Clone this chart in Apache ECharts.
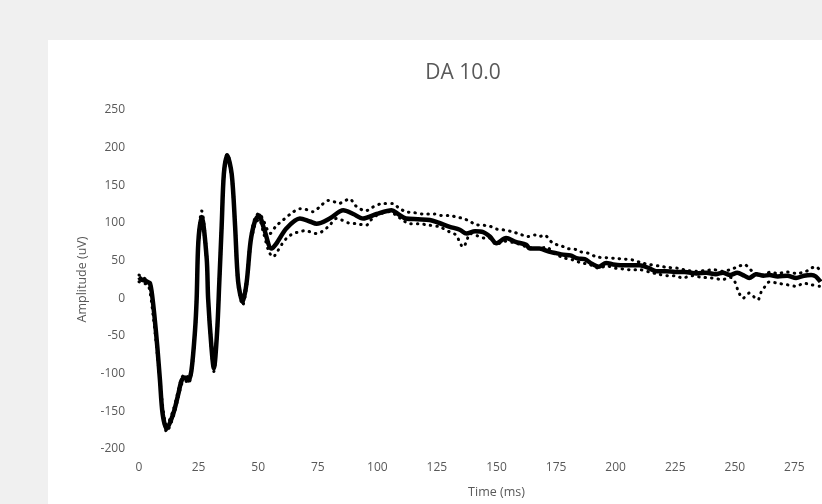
<!DOCTYPE html>
<html>
<head>
<meta charset="utf-8">
<script src="https://cdn.jsdelivr.net/npm/echarts@6/dist/echarts.min.js"></script>
<style>
  html, body { margin: 0; padding: 0; background: #f0f0f0; overflow: hidden; width: 822px; height: 504px; }
  #panel { position: absolute; left: 48px; top: 40px; width: 830px; height: 464px; background: #fff; }
</style>
</head>
<body>
<div id="panel"></div>
<script>
// mean trace
const solidT = [0, 1, 2, 3, 4, 4.6, 5.3, 6.4, 7.7, 8.8, 9.9, 11.6, 14.4, 16.5, 17.9, 19.3, 20.7, 22, 23.5, 24.2, 24.9, 26.3, 28.4, 29, 30.4, 31.4, 32.8, 33.7, 34.7, 35.6, 37, 38.9, 40.3, 41.6, 43.5, 45.2, 46.8, 48.6, 50.3, 52.4, 55.6, 57.7, 61.9, 67.5, 71.7, 74.5, 80, 85.7, 89.9, 94, 99.7, 106, 108.7, 112, 117, 122, 126, 130.4, 134.6, 137.4, 141, 144.4, 147.2, 150, 154, 158, 162.5, 164, 168, 172, 175, 178, 181, 184, 187, 190, 193, 196, 199, 202, 206, 210, 214, 217, 221, 225, 229, 234, 238, 242, 245, 248, 251, 254, 256, 259, 262, 264.6, 268, 272, 275.7, 279, 282, 284, 286];
const solidV = [28, 25, 24, 23, 21, 20, 9, -21, -65, -109, -153, -173, -153, -127, -109, -105, -109, -96, -43, 0, 75, 108, 53, 0, -65, -93, -43, 22, 97, 165, 190, 165, 97, 22, -5, 22, 75, 102, 110, 93, 66, 73, 93, 106, 102, 99, 106, 117, 112, 106, 112, 117, 112, 106, 105, 104, 100, 95, 91, 86, 89, 88, 82, 73, 80, 75, 71, 66, 66, 62, 60, 58, 57, 53, 52, 46, 42, 47, 45, 44, 44, 44, 40, 36, 36, 35, 35, 33, 34, 32, 34, 31, 34, 30, 27, 32, 30, 31, 29, 30, 27, 30, 31, 29, 22];

// upper bound (dotted)
const upperT = [0, 2, 4, 6, 8, 10, 11.6, 14.4, 16.5, 18, 19.3, 20.7, 22, 23.5, 24.2, 24.9, 26.3, 28.4, 29, 30.4, 31.4, 32.8, 33.7, 34.7, 35.6, 37, 38.9, 40.3, 41.6, 43.5, 45.2, 46.8, 48.6, 50.3, 52.4, 55, 57.5, 60.5, 64, 67.5, 70, 73, 76, 79.4, 82, 84, 86, 88.5, 90.5, 92.7, 95, 98, 102.4, 106.6, 109, 112, 115, 119, 124, 127, 130.4, 133, 136, 139, 141, 144.4, 147, 150, 152.8, 157, 160, 163, 166, 168, 170, 173.7, 177, 180, 183, 185, 188.4, 192, 196, 200, 204, 207, 211, 214, 218, 222, 226, 230, 234, 238, 241, 245, 248, 251.3, 254, 256, 258, 261.8, 265, 268, 272, 276, 280, 282, 284, 286];
const upperV = [31, 27, 23, -15, -78, -145, -168, -148, -122, -105, -101, -105, -92, -38, 5, 80, 116, 58, 5, -60, -88, -38, 27, 102, 168, 192, 167, 102, 27, 0, 27, 80, 106, 113, 102, 86, 96, 104, 113, 119, 118, 115, 122, 130, 128, 126, 129, 132, 124, 119, 116, 121, 126, 126, 120, 115, 114, 112, 112, 110, 110, 108, 106, 102, 98, 97, 96, 92, 91, 88, 85, 82, 84, 82, 84, 73, 70, 66, 65, 62, 60, 55, 54, 53, 52, 51, 47, 45, 43, 41, 40, 37, 36, 37, 38, 36, 38, 42, 45, 40, 34, 31, 35, 33, 35, 33, 36, 40, 42, 36];

// lower bound (dotted)
const lowerT = [0, 2, 4, 6, 8, 10, 11.6, 14.4, 16.5, 18, 19.3, 20.7, 22, 23.5, 24.2, 24.9, 26.3, 28.4, 29, 30.4, 31.4, 32.8, 33.7, 34.7, 35.6, 37, 38.9, 40.3, 41.6, 43.5, 45.2, 46.8, 48.6, 50.3, 52.4, 54.5, 56.3, 58, 60, 62, 64.7, 67, 70, 72, 74.5, 77, 80, 82.8, 85, 88, 91.3, 95.4, 97, 99.7, 102, 105.2, 108, 111, 113.6, 117, 122, 126, 130.4, 133, 136, 137.5, 138.8, 142, 145, 147, 150, 153, 158.4, 163, 168, 171, 174, 178, 182, 185.6, 189, 193, 196, 200, 203, 206, 210, 214, 218, 222, 225, 228, 232, 236, 240, 245, 248, 250, 251.5, 253.4, 255, 256, 258, 259.7, 261, 262.5, 264.6, 268, 272, 275.7, 279, 282, 285.5];
const lowerV = [22, 20, 17, -25, -85, -152, -177, -157, -131, -113, -109, -113, -100, -48, -4, 70, 103, 48, -4, -70, -97, -48, 17, 92, 160, 186, 160, 92, 17, -9, 17, 70, 97, 105, 85, 62, 55, 62, 72, 80, 86, 88, 90, 88, 86, 89, 97, 106, 104, 100, 99, 97, 103, 110, 113, 115, 110, 103, 99, 99, 97, 95, 88, 84, 68, 76, 86, 83, 80, 80, 71, 76, 73, 68, 66, 68, 60, 54, 51, 47, 45, 40, 43, 40, 39, 38, 38, 35, 32, 30, 30, 27, 30, 28, 27, 25, 28, 22, 9, 0, 4, 7, 2, -2, 8, 15, 22, 20, 18, 16, 20, 18, 16];

const xTicks = { min: 0, max: 300, interval: 25 };
const yTicks = { min: -200, max: 250, interval: 50 };

const pairs = (t, v) => t.map((x, i) => [x, v[i]]);

const chart = echarts.init(document.getElementById('panel'));
const labelColor = '#595959';
const font = '"Open Sans", "Noto Sans", sans-serif';

chart.setOption({
  animation: false,
  title: {
    text: 'DA 10.0',
    left: 'center',
    top: 18,
    textStyle: { fontFamily: font, fontSize: 21, fontWeight: 'normal', color: labelColor }
  },
  grid: { left: 91, top: 70, width: 715, height: 340 },
  xAxis: {
    type: 'value',
    min: xTicks.min, max: xTicks.max, interval: xTicks.interval,
    name: 'Time (ms)',
    nameLocation: 'middle',
    nameGap: 37,
    nameTextStyle: { fontFamily: font, fontSize: 12.5, color: labelColor },
    axisLine: { show: false },
    axisTick: { show: false },
    splitLine: { show: false },
    axisLabel: { margin: 13, fontFamily: font, fontSize: 12, color: labelColor }
  },
  yAxis: {
    type: 'value',
    min: yTicks.min, max: yTicks.max, interval: yTicks.interval,
    name: 'Amplitude (uV)',
    nameLocation: 'middle',
    nameGap: 50,
    nameTextStyle: { fontFamily: font, fontSize: 12.5, color: labelColor },
    axisLine: { show: false },
    axisTick: { show: false },
    splitLine: { show: false },
    axisLabel: { margin: 14, fontFamily: font, fontSize: 12, color: labelColor }
  },
  series: [
    {
      name: 'upper',
      type: 'line',
      data: pairs(upperT, upperV),
      showSymbol: false,
      smooth: 0.3,
      lineStyle: { color: '#000', width: 3, type: [0.5, 6], cap: 'round' }
    },
    {
      name: 'lower',
      type: 'line',
      data: pairs(lowerT, lowerV),
      showSymbol: false,
      smooth: 0.3,
      lineStyle: { color: '#000', width: 3, type: [0.5, 6], cap: 'round' }
    },
    {
      name: 'mean',
      type: 'line',
      data: pairs(solidT, solidV),
      showSymbol: false,
      smooth: 0.3,
      lineStyle: { color: '#000', width: 4.5 }
    }
  ]
});
</script>
</body>
</html>
